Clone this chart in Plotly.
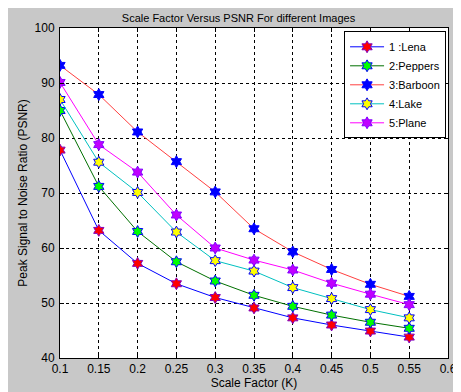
import plotly.graph_objects as go

scale = [0.1, 0.15, 0.2, 0.25, 0.3, 0.35, 0.4, 0.45, 0.5, 0.55]
lena = [77.8, 63.2, 57.2, 53.5, 51.0, 49.1, 47.3, 46.0, 44.9, 43.8]
peppers = [85.0, 71.2, 63.0, 57.5, 54.0, 51.4, 49.4, 47.8, 46.5, 45.4]
barboon = [93.2, 87.9, 81.1, 75.7, 70.2, 63.5, 59.3, 56.1, 53.4, 51.2]
lake = [87.0, 75.6, 70.1, 62.9, 57.7, 55.8, 52.8, 50.8, 48.8, 47.3]
plane = [90.1, 78.8, 73.8, 66.0, 60.0, 57.8, 56.0, 53.6, 51.6, 49.7]

series = [
    ("1 :Lena", lena, "#0000ff", "#ff0000", "#8000c0"),
    ("2:Peppers", peppers, "#007000", "#00ff00", "#0000ff"),
    ("3:Barboon", barboon, "#ff4040", "#0000ff", "#0000ff"),
    ("4:Lake", lake, "#00c0c0", "#ffff00", "#0000ff"),
    ("5:Plane", plane, "#ff00ff", "#c000ff", "#8000ff"),
]

fig = go.Figure()
for name, ys, lc, fc, ec in series:
    fig.add_trace(go.Scatter(
        x=scale, y=ys, name=name, mode="lines+markers",
        line=dict(color=lc, width=1),
        marker=dict(symbol="hexagram", size=9, color=fc,
                    line=dict(color=ec, width=1)),
    ))

font = "Liberation Sans, Arial, sans-serif"
fig.update_layout(
    width=461, height=392,
    margin=dict(l=52, r=16, t=20, b=39),
    paper_bgcolor="#c8c8c8",
    plot_bgcolor="#ffffff",
    font=dict(family=font, size=12, color="#000000"),
    title=dict(text="Scale Factor Versus PSNR For different Images",
               x=0.5, xanchor="center", y=0.985, yanchor="top",
               font=dict(size=11)),
    legend=dict(x=0.995, y=0.99, xanchor="right", yanchor="top",
                bgcolor="#ffffff", bordercolor="#000000", borderwidth=1,
                font=dict(size=11), tracegroupgap=0, itemwidth=34),
    showlegend=True,
)
fig.update_xaxes(
    range=[0.1, 0.6], tickmode="array",
    tickvals=[0.1, 0.15, 0.2, 0.25, 0.3, 0.35, 0.4, 0.45, 0.5, 0.55, 0.6],
    ticktext=["0.1", "0.15", "0.2", "0.25", "0.3", "0.35", "0.4", "0.45", "0.5", "0.55", "0.6"],
    showgrid=True, gridcolor="#000000", griddash="dot", gridwidth=1,
    showline=True, linecolor="#000000", linewidth=1, mirror="ticks",
    ticks="inside", ticklen=4, tickcolor="#000000",
    zeroline=False,
    title=dict(text="Scale Factor (K)", standoff=3, font=dict(size=12)),
)
fig.update_yaxes(
    range=[40, 100], tickmode="array",
    tickvals=[40, 50, 60, 70, 80, 90, 100],
    showgrid=True, gridcolor="#000000", griddash="dot", gridwidth=1,
    showline=True, linecolor="#000000", linewidth=1, mirror="ticks",
    ticks="inside", ticklen=4, tickcolor="#000000",
    zeroline=False, ticklabelstandoff=2,
    title=dict(text="Peak Signal to Noise Ratio (PSNR)", standoff=4, font=dict(size=12)),
)

fig.write_html("out.html")
